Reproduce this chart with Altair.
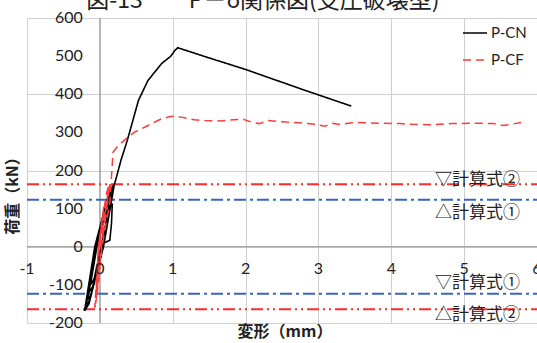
import altair as alt
import pandas as pd

# ---- data ----
cn_x = [0, 0.03, 0.045, 0.137, 0.16, 0.17, 0.12, 0.07, -0.04, -0.13, -0.08, 0.02,
        0.14, 0.09, -0.05, -0.15, -0.10, 0.03,
        0.16, 0.11, -0.05, -0.17, -0.12, 0.03,
        0.18, 0.12, -0.06, -0.19, -0.14, 0.04,
        0.19, 0.13, -0.07, -0.21, -0.15, 0.05,
        0.20, 0.21, 0.29, 0.37, 0.39, 0.53, 0.66, 0.85, 0.97, 1.03, 1.07, 1.44, 2.0, 2.79, 3.45]
cn_y = [0, 5, 9, 17, 62, 110, 100, 80, 0, -100, -85, 0,
        120, 100, 0, -120, -105, 0,
        140, 120, 0, -140, -125, 0,
        155, 135, 0, -155, -140, 0,
        162, 145, 0, -168, -150, 0,
        165, 170, 227, 275, 288, 384, 436, 481, 499, 515, 522, 499, 465, 412, 369]

cf_x = [0, 0.05, 0.08, 0.05, -0.02, -0.05, -0.03, 0.02, 0.12, 0.09, -0.02, -0.07, -0.05,
        0.02, 0.14, 0.11, -0.01, -0.06, -0.04, 0.03, 0.14, 0.18, 0.25, 0.39, 0.48, 0.62, 0.71,
        0.85, 0.98, 1.12, 1.30, 1.44, 1.65, 1.83, 1.96, 2.08, 2.19, 2.31, 2.56, 2.74, 2.97,
        3.09, 3.18, 3.29, 3.38, 3.52, 3.80, 4.12, 4.30, 4.57, 4.84, 5.21, 5.40, 5.53, 5.67, 5.78]
cf_y = [0, 70, 120, 100, 0, -120, -100, 0, 160, 140, 0, -160, -140,
        0, 165, 130, 0, -150, -130, 0, 120, 248, 265, 288, 301, 314, 323,
        336, 342, 340, 333, 331, 330, 333, 335, 327, 323, 331, 327, 325, 321,
        316, 324, 321, 323, 326, 324, 323, 321, 320, 323, 324, 323, 318, 322, 326]

ref_vals = [164, 123, -123, -164]
ref_kind = ["式2", "式1", "式1", "式2"]

ann_text = ["▽計算式②", "△計算式①", "▽計算式①", "△計算式②"]
ann_y = [174, 88, -95, -179]
ann_x = 4.6

x_ticks = [-1, 0, 1, 2, 3, 4, 5, 6]
y_ticks = [-200, -100, 0, 100, 200, 300, 400, 500, 600]
x_labels = ["-1", "0", "1", "2", "3", "4", "5", "6"]
y_labels = ["-200", "-100", "0", "100", "200", "300", "400", "500", "600"]

series = ["P-CN", "P-CF"]
title_text = "図-13　　P－δ関係図(支圧破壊型)"

# ---- tables ----
cn = pd.DataFrame({"x": cn_x, "y": cn_y, "i": range(len(cn_x)), "s": series[0]})
cf = pd.DataFrame({"x": cf_x, "y": cf_y, "i": range(len(cf_x)), "s": series[1]})
refs = pd.DataFrame({"y": ref_vals, "k": ref_kind})
ann = pd.DataFrame({"t": ann_text, "y": ann_y, "x": [ann_x] * 4})
xt = pd.DataFrame({"v": x_ticks, "t": x_labels})
yt = pd.DataFrame({"v": y_ticks, "t": y_labels})

W, H = 510, 305
xs = alt.Scale(domain=[-1, 6], nice=False, zero=False)
ys = alt.Scale(domain=[-200, 600], nice=False, zero=False)
grid_axis = dict(grid=True, gridColor="#d0d0d0", gridWidth=1, labels=False, ticks=False,
                 domain=False, title=None)
LATIN = "Lato"
CJK = "Noto Sans CJK JP"

grid = alt.Chart(xt).mark_rule(opacity=0).encode(
    x=alt.X("v:Q", scale=xs, axis=alt.Axis(values=x_ticks, **grid_axis)),
)
grid_y = alt.Chart(yt).mark_rule(opacity=0).encode(
    y=alt.Y("v:Q", scale=ys, axis=alt.Axis(values=y_ticks, **grid_axis)),
)

zero_v = alt.Chart(xt).transform_filter("datum.v == 0").mark_rule(color="#8c8c8c", strokeWidth=1).encode(
    x=alt.X("v:Q", scale=xs), y=alt.value(0), y2=alt.value(H))
zero_h = alt.Chart(yt).transform_filter("datum.v == 0").mark_rule(color="#8c8c8c", strokeWidth=1).encode(
    y=alt.Y("v:Q", scale=ys), x=alt.value(0), x2=alt.value(W))

ylab = alt.Chart(yt).mark_text(align="right", baseline="middle", dx=-17, fontSize=16,
                                font=LATIN, color="#222").encode(
    x=alt.datum(0), y=alt.Y("v:Q", scale=ys), text="t:N")
xlab = alt.Chart(xt).mark_text(align="center", baseline="middle", dy=22, fontSize=16,
                                font=LATIN, color="#222").encode(
    x=alt.X("v:Q", scale=xs), y=alt.datum(0), text="t:N")

color_scale = alt.Scale(domain=series, range=["#000000", "#ff3b3b"])
dash_scale = alt.Scale(domain=series, range=[[1, 0], [8, 5]])
legend = alt.Legend(orient="none", legendX=435, legendY=2, title=None, symbolType="stroke",
                    symbolSize=576, symbolStrokeWidth=1.5, labelFontSize=15, labelFont=LATIN,
                    labelColor="#222", rowPadding=6, padding=0, labelOffset=3)

line_cn = alt.Chart(cn).mark_line(strokeWidth=1.6).encode(
    x=alt.X("x:Q", scale=xs), y=alt.Y("y:Q", scale=ys), order="i:Q",
    color=alt.Color("s:N", scale=color_scale, legend=legend),
    strokeDash=alt.StrokeDash("s:N", scale=dash_scale, legend=legend),
)
line_cf = alt.Chart(cf).mark_line(strokeWidth=1.5).encode(
    x=alt.X("x:Q", scale=xs), y=alt.Y("y:Q", scale=ys), order="i:Q",
    color=alt.Color("s:N", scale=color_scale, legend=legend),
    strokeDash=alt.StrokeDash("s:N", scale=dash_scale, legend=legend),
)

rule2 = alt.Chart(refs).transform_filter("datum.k == '式2'").mark_rule(
    color="#ff2a2a", strokeWidth=2, strokeDash=[12, 4, 2, 4, 2, 4]).encode(
    y=alt.Y("y:Q", scale=ys), x=alt.value(0), x2=alt.value(W))
rule1 = alt.Chart(refs).transform_filter("datum.k == '式1'").mark_rule(
    color="#3a66c0", strokeWidth=2, strokeDash=[12, 4, 3, 4]).encode(
    y=alt.Y("y:Q", scale=ys), x=alt.value(0), x2=alt.value(W))

ann_text_layer = alt.Chart(ann).mark_text(align="left", baseline="middle", fontSize=17,
                                          font=CJK, color="#222").encode(
    x=alt.X("x:Q", scale=xs), y=alt.Y("y:Q", scale=ys), text="t:N")

title_layer = alt.Chart(pd.DataFrame({"t": [title_text]})).mark_text(
    align="center", baseline="alphabetic", fontSize=23, font=CJK, color="#222").encode(
    x=alt.value(236), y=alt.value(-10), text="t:N")

ytitle = alt.Chart(pd.DataFrame({"t": ["荷重（kN）"]})).mark_text(
    align="center", baseline="middle", fontSize=16, font=CJK, fontWeight="bold",
    angle=270, color="#222").encode(x=alt.value(-14), y=alt.value(174), text="t:N")
xtitle = alt.Chart(pd.DataFrame({"t": ["変形（mm）"]})).mark_text(
    align="center", baseline="middle", fontSize=16, font=CJK, fontWeight="bold",
    color="#222").encode(x=alt.value(258), y=alt.value(314), text="t:N")

chart = alt.layer(
    grid, grid_y, zero_v, zero_h, rule2, rule1, line_cn, line_cf,
    ylab, xlab, ann_text_layer, title_layer, ytitle, xtitle
).properties(
    width=W, height=H,
    padding={"left": 27, "top": 18, "right": 0, "bottom": 20},
    autosize=alt.AutoSizeParams(type="none"),
    background="white",
).configure_view(stroke=None)

chart.save("out.html", embed_options={"renderer": "svg", "actions": False})
